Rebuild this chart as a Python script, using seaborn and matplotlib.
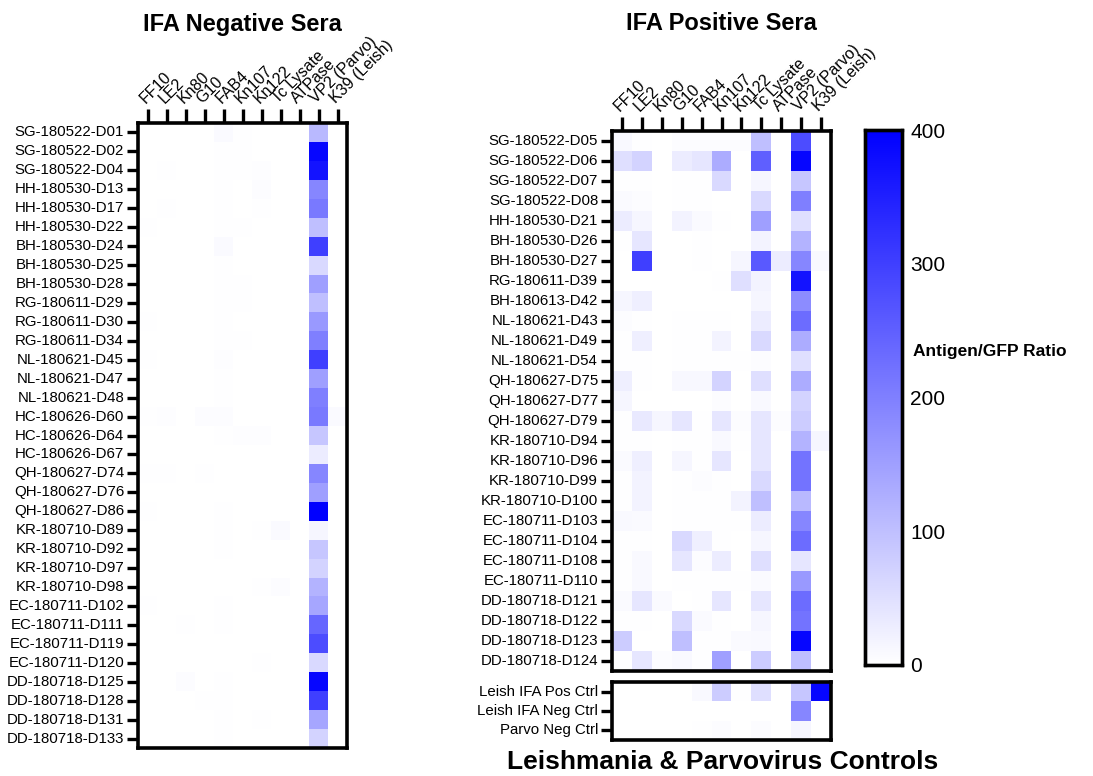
import numpy as np
import pandas as pd
import matplotlib
matplotlib.use("Agg")
import matplotlib.pyplot as plt
import seaborn as sns
from matplotlib.colors import LinearSegmentedColormap

sns.set_theme(style="white")
plt.rcParams['font.family'] = ['Liberation Sans', 'DejaVu Sans']
plt.rcParams['text.color'] = 'black'
plt.rcParams['axes.labelcolor'] = 'black'
plt.rcParams['xtick.color'] = 'black'
plt.rcParams['ytick.color'] = 'black'

antigens = ["FF10", "LE2", "Kn80", "G10", "FAB4", "Kn107", "Kn122",
            "Tc Lysate", "ATPase", "VP2 (Parvo)", "K39 (Leish)"]

neg_sera = ["SG-180522-D01", "SG-180522-D02", "SG-180522-D04", "HH-180530-D13",
            "HH-180530-D17", "HH-180530-D22", "BH-180530-D24", "BH-180530-D25",
            "BH-180530-D28", "RG-180611-D29", "RG-180611-D30", "RG-180611-D34",
            "NL-180621-D45", "NL-180621-D47", "NL-180621-D48", "HC-180626-D60",
            "HC-180626-D64", "HC-180626-D67", "QH-180627-D74", "QH-180627-D76",
            "QH-180627-D86", "KR-180710-D89", "KR-180710-D92", "KR-180710-D97",
            "KR-180710-D98", "EC-180711-D102", "EC-180711-D111", "EC-180711-D119",
            "EC-180711-D120", "DD-180718-D125", "DD-180718-D128", "DD-180718-D131",
            "DD-180718-D133"]

# columns: FF10, LE2, Kn80, G10, FAB4, Kn107, Kn122, Tc Lysate, ATPase, VP2, K39
neg_values = [
    [0, 0, 0, 0, 8, 2, 0, 0, 0, 110, 0],
    [0, 0, 0, 0, 3, 3, 0, 0, 0, 390, 0],
    [0, 3, 0, 0, 2, 2, 4, 0, 0, 370, 0],
    [0, 0, 0, 0, 2, 0, 5, 0, 0, 190, 0],
    [0, 2, 0, 0, 2, 0, 2, 0, 0, 210, 0],
    [2, 0, 0, 0, 2, 2, 0, 0, 0, 100, 0],
    [0, 0, 0, 0, 8, 0, 0, 0, 0, 300, 0],
    [0, 0, 0, 0, 2, 0, 0, 0, 0, 60, 0],
    [0, 0, 0, 0, 3, 3, 0, 0, 0, 150, 0],
    [0, 0, 0, 0, 2, 2, 0, 0, 0, 100, 0],
    [2, 0, 0, 0, 2, 0, 0, 0, 0, 160, 0],
    [0, 0, 0, 0, 3, 2, 0, 0, 0, 200, 0],
    [3, 0, 0, 0, 4, 0, 0, 0, 0, 300, 0],
    [0, 0, 0, 0, 2, 0, 0, 0, 0, 150, 0],
    [0, 0, 0, 0, 2, 0, 0, 0, 0, 200, 0],
    [2, 4, 0, 5, 5, 0, 0, 0, 0, 210, 8],
    [0, 0, 0, 0, 2, 4, 4, 0, 0, 90, 0],
    [0, 0, 0, 0, 0, 0, 0, 0, 0, 30, 0],
    [3, 3, 0, 2, 0, 0, 0, 0, 0, 190, 0],
    [0, 0, 0, 0, 0, 0, 0, 0, 0, 150, 0],
    [3, 0, 0, 0, 2, 0, 0, 0, 0, 400, 0],
    [0, 0, 0, 0, 2, 0, 3, 8, 0, 15, 0],
    [0, 0, 0, 0, 2, 0, 0, 0, 0, 90, 0],
    [0, 0, 0, 0, 0, 0, 0, 0, 0, 70, 0],
    [0, 0, 0, 0, 0, 0, 2, 6, 0, 120, 0],
    [2, 0, 0, 0, 2, 0, 0, 0, 0, 140, 0],
    [0, 0, 3, 0, 2, 0, 0, 0, 0, 240, 0],
    [0, 0, 0, 0, 0, 0, 0, 0, 0, 280, 0],
    [0, 0, 0, 0, 0, 0, 3, 0, 0, 60, 0],
    [0, 0, 5, 0, 2, 0, 0, 0, 0, 390, 0],
    [0, 0, 0, 2, 2, 0, 0, 0, 0, 300, 0],
    [0, 0, 0, 0, 2, 0, 3, 0, 0, 140, 0],
    [0, 0, 0, 0, 2, 0, 0, 0, 0, 70, 0],
]

pos_sera = ["SG-180522-D05", "SG-180522-D06", "SG-180522-D07", "SG-180522-D08",
            "HH-180530-D21", "BH-180530-D26", "BH-180530-D27", "RG-180611-D39",
            "BH-180613-D42", "NL-180621-D43", "NL-180621-D49", "NL-180621-D54",
            "QH-180627-D75", "QH-180627-D77", "QH-180627-D79", "KR-180710-D94",
            "KR-180710-D96", "KR-180710-D99", "KR-180710-D100", "EC-180711-D103",
            "EC-180711-D104", "EC-180711-D108", "EC-180711-D110", "DD-180718-D121",
            "DD-180718-D122", "DD-180718-D123", "DD-180718-D124"]

pos_values = [
    [10, 3, 0, 5, 5, 6, 6, 100, 0, 280, 0],
    [50, 70, 0, 30, 40, 130, 0, 250, 0, 390, 0],
    [3, 3, 0, 3, 3, 60, 0, 15, 0, 90, 0],
    [8, 5, 0, 3, 3, 0, 0, 60, 0, 200, 0],
    [30, 15, 0, 20, 8, 3, 0, 150, 0, 50, 0],
    [3, 40, 0, 0, 3, 0, 0, 20, 0, 120, 0],
    [0, 300, 0, 0, 3, 0, 15, 260, 30, 190, 10],
    [0, 0, 0, 0, 0, 3, 50, 20, 0, 370, 0],
    [15, 25, 0, 0, 0, 0, 0, 15, 0, 180, 0],
    [5, 3, 0, 3, 3, 3, 0, 30, 0, 230, 0],
    [3, 25, 0, 3, 3, 20, 0, 60, 0, 130, 0],
    [3, 3, 0, 3, 3, 3, 3, 5, 0, 50, 0],
    [25, 3, 0, 12, 12, 70, 0, 50, 0, 130, 0],
    [15, 0, 0, 0, 0, 5, 0, 10, 0, 70, 0],
    [3, 35, 15, 40, 3, 40, 5, 40, 5, 80, 0],
    [3, 3, 0, 3, 3, 10, 3, 40, 0, 120, 15],
    [8, 25, 0, 15, 3, 40, 0, 40, 0, 220, 0],
    [3, 20, 0, 3, 5, 3, 0, 60, 0, 220, 0],
    [3, 20, 0, 3, 3, 3, 20, 100, 0, 110, 0],
    [10, 8, 0, 3, 3, 3, 3, 30, 0, 190, 0],
    [3, 3, 0, 60, 25, 3, 0, 15, 0, 230, 0],
    [3, 10, 0, 40, 5, 30, 0, 50, 0, 40, 0],
    [3, 10, 0, 3, 3, 3, 3, 8, 0, 160, 0],
    [8, 40, 8, 0, 3, 40, 0, 40, 0, 230, 0],
    [3, 3, 0, 60, 8, 3, 0, 15, 0, 220, 0],
    [80, 0, 0, 100, 3, 3, 8, 10, 0, 390, 0],
    [3, 40, 5, 10, 3, 150, 0, 80, 0, 100, 0],
]

ctrl_names = ["Leish IFA Pos Ctrl", "Leish IFA Neg Ctrl", "Parvo Neg Ctrl"]
ctrl_values = [
    [0, 0, 0, 0, 10, 80, 3, 50, 0, 90, 390],
    [0, 0, 0, 0, 0, 0, 0, 0, 0, 190, 0],
    [0, 0, 0, 0, 3, 5, 0, 5, 0, 15, 0],
]

cbar_ticks = [0, 100, 200, 300, 400]

W, H = 1093, 776
fig = plt.figure(figsize=(W / 100, H / 100), dpi=100)


def rect(x0, y0, x1, y1):
    return [x0 / W, 1 - y1 / H, (x1 - x0) / W, (y1 - y0) / H]


cmap = LinearSegmentedColormap.from_list("wb", ["#ffffff", "#0000ff"])

ax_neg = fig.add_axes(rect(138, 123, 347, 748))
ax_pos = fig.add_axes(rect(612, 131, 831, 671))
ax_ctl = fig.add_axes(rect(612, 682, 831, 740))
ax_cb = fig.add_axes(rect(865, 130, 902, 665))

df_neg = pd.DataFrame(neg_values, index=neg_sera, columns=antigens)
df_pos = pd.DataFrame(pos_values, index=pos_sera, columns=antigens)
df_ctl = pd.DataFrame(ctrl_values, index=ctrl_names, columns=antigens)

sns.heatmap(df_neg, ax=ax_neg, cmap=cmap, vmin=0, vmax=400, cbar=False,
            xticklabels=True, yticklabels=True)
sns.heatmap(df_pos, ax=ax_pos, cmap=cmap, vmin=0, vmax=400, cbar_ax=ax_cb,
            cbar_kws={"ticks": cbar_ticks}, xticklabels=True, yticklabels=True)
sns.heatmap(df_ctl, ax=ax_ctl, cmap=cmap, vmin=0, vmax=400, cbar=False,
            xticklabels=True, yticklabels=True)

for ax, top_labels in [(ax_neg, True), (ax_pos, True), (ax_ctl, False)]:
    for s in ax.spines.values():
        s.set_visible(True)
        s.set_linewidth(2.6)
        s.set_color("black")
    ax.set_xlabel("")
    ax.set_ylabel("")
    ax.tick_params(axis="y", left=True, length=8, width=2.4, color="black",
                   labelsize=10.8, pad=2, labelcolor="black")
    ax.set_yticklabels(ax.get_yticklabels(), rotation=0)
    if top_labels:
        ax.xaxis.tick_top()
        ax.tick_params(axis="x", top=True, bottom=False, labeltop=True,
                       labelbottom=False, length=10, width=2.4, color="black",
                       labelsize=11.5, pad=2, labelcolor="black")
        ax.set_xticklabels(antigens, rotation=45, ha="left",
                           rotation_mode="anchor")
    else:
        ax.tick_params(axis="x", top=False, bottom=False, labeltop=False,
                       labelbottom=False)

ax_cb.yaxis.set_ticks_position("both")
ax_cb.tick_params(axis="y", labelsize=15, length=5, width=2, direction="in",
                  left=True, right=True, labelleft=False, labelright=True,
                  pad=6, labelcolor="black")
for s in ax_cb.spines.values():
    s.set_visible(True)
    s.set_linewidth(2.4)
    s.set_color("black")
cb = ax_pos.collections[0].colorbar
cb.outline.set_linewidth(2.4)
cb.outline.set_edgecolor("black")

fig.text(913 / W, 1 - 352 / H, "Antigen/GFP Ratio", fontsize=12.5,
         fontweight="bold", ha="left", va="center")

title_family = ["Liberation Sans Narrow", "Liberation Sans"]
fig.text(242 / W, 1 - 24 / H, "IFA Negative Sera", fontsize=17,
         fontweight="bold", ha="center", va="center", family=title_family)
fig.text(721 / W, 1 - 24 / H, "IFA Positive Sera", fontsize=17,
         fontweight="bold", ha="center", va="center", family=title_family)
fig.text(723 / W, 1 - 762 / H, "Leishmania & Parvovirus Controls", fontsize=19,
         fontweight="bold", ha="center", va="center")

fig.savefig("out.png", dpi=100, facecolor="white")
